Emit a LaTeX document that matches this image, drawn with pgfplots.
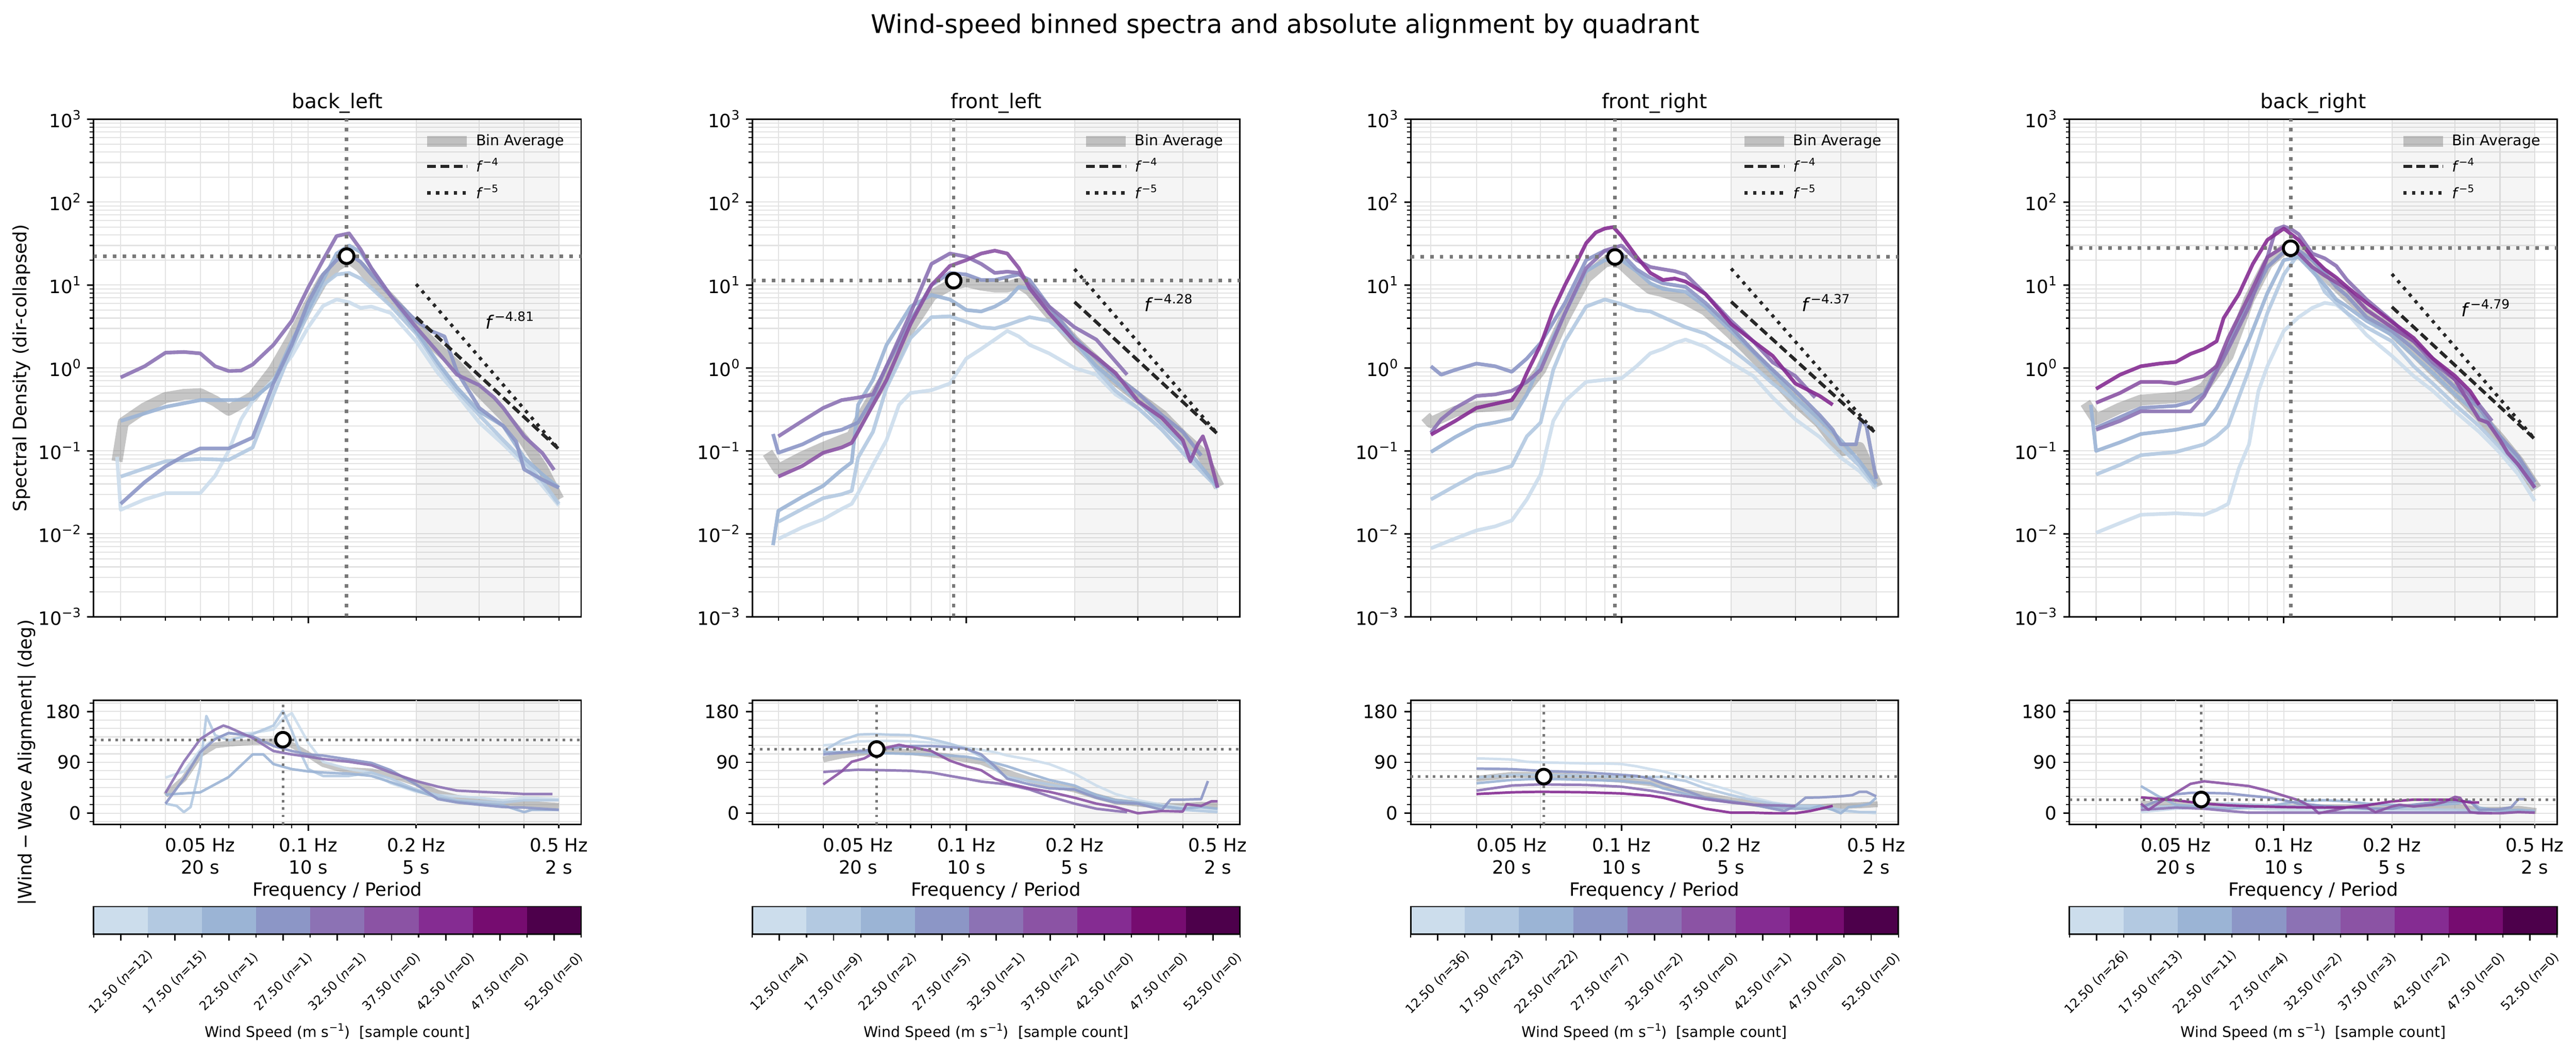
\documentclass[border=0pt]{standalone}
\usepackage{fontspec}
\setmainfont{DejaVu Sans}
\usepackage{pgfplots}
\pgfplotsset{compat=1.18}
\definecolor{c1}{RGB}{204,221,236}
\definecolor{c2}{RGB}{179,201,225}
\definecolor{c3}{RGB}{155,180,213}
\definecolor{c4}{RGB}{140,150,198}
\definecolor{c5}{RGB}{140,114,180}
\definecolor{c6}{RGB}{139,83,164}
\definecolor{c7}{RGB}{133,44,146}
\definecolor{c8}{RGB}{118,12,112}
\definecolor{c9}{RGB}{77,0,75}
\definecolor{refgray}{RGB}{120,120,120}
\newcommand{\sups}[1]{\raisebox{0.42em}{\scalebox{0.7}{#1}}}
\pgfplotsset{legend image code/.code={\draw[#1] (0cm,0cm) -- (0.76cm,0cm);}}
\tikzset{
  myLn/.style={line width=2pt, opacity=0.9, line join=round},
  myLb/.style={line width=1.4pt, opacity=0.9, line join=round},
  myAvgT/.style={line width=6pt, gray, opacity=0.45, line join=round},
  myAvgB/.style={line width=3.2pt, gray, opacity=0.45, line join=round},
  myRefl/.style={line width=1.9pt, refgray, dash pattern=on 1.9pt off 3.4pt},
  myReflb/.style={line width=1.4pt, refgray, dash pattern=on 1.4pt off 2.6pt},
  myS4/.style={black!85, line width=1.8pt, dash pattern=on 4.8pt off 2.4pt},
  myS5/.style={black!85, line width=1.8pt, dash pattern=on 1.8pt off 3pt},
  myShade/.style={fill=black, fill opacity=0.04, draw=none},
}
\newcommand{\TopAxis}[3]{\begin{axis}[at={(#1cm,8.424cm)}, xmin=#2, xmax=#3,
    scale only axis, width=9.356cm, height=9.550cm, xmode=log, ymode=log, anchor=south west,
    axis line style={line width=0.8pt}, tick align=outside, tick pos=left,
    major tick length=3.5pt, minor tick length=2pt,
    major tick style={black, line width=0.8pt}, minor tick style={black, line width=0.6pt},
    grid=both, major grid style={gray!22, line width=0.6pt}, minor grid style={gray!22, line width=0.6pt},
    unbounded coords=discard,
    ticklabel style={font=\fontsize{10}{12}\selectfont},
    ymin=1e-3, ymax=1e3,
    ytick={1e-3,1e-2,1e-1,1,10,100,1000},
    yticklabels={10\sups{−3},10\sups{−2},10\sups{−1},10\sups{0},10\sups{1},10\sups{2},10\sups{3}},
    minor ytick={2e-3,3e-3,4e-3,5e-3,6e-3,7e-3,8e-3,9e-3,2e-2,3e-2,4e-2,5e-2,6e-2,7e-2,8e-2,9e-2,0.2,0.3,0.4,0.5,0.6,0.7,0.8,0.9,2,3,4,5,6,7,8,9,20,30,40,50,60,70,80,90,200,300,400,500,600,700,800,900},
    xtick={0.1}, xticklabels={}, minor xtick={0.03,0.04,0.05,0.06,0.07,0.08,0.09,0.2,0.3,0.4,0.5},
    legend style={at={(0.985,0.985)}, anchor=north east, draw=none, fill=none,
      font=\fontsize{8}{9.6}\selectfont, cells={anchor=west}, row sep=1.5pt}]}
\newcommand{\BotAxis}[3]{\begin{axis}[at={(#1cm,4.437cm)}, xmin=#2, xmax=#3,
    scale only axis, width=9.356cm, height=2.388cm, xmode=log, anchor=south west,
    axis line style={line width=0.8pt}, tick align=outside, tick pos=left,
    major tick length=3.5pt, minor tick length=2pt,
    major tick style={black, line width=0.8pt}, minor tick style={black, line width=0.6pt},
    grid=both, major grid style={gray!22, line width=0.6pt}, minor grid style={gray!22, line width=0.6pt},
    unbounded coords=discard,
    ticklabel style={font=\fontsize{10}{12}\selectfont},
    ymin=-20, ymax=200,
    ytick={0,90,180}, yticklabels={0,90,180},
    minor ytick={-15,15,30,45,60,75,105,120,135,150,165,195},
    xtick={0.1}, xticklabels={{0.1 Hz\\10 s}},
    xticklabel style={align=center, yshift=-0.4pt},
    extra x ticks={0.05,0.2,0.5}, extra x tick labels={{0.05 Hz\\20 s},{0.2 Hz\\5 s},{0.5 Hz\\2 s}},
    extra x tick style={major tick length=2pt, grid=major, xticklabel style={yshift=-1.6pt}},
    minor xtick={0.03,0.04,0.06,0.07,0.08,0.09,0.3,0.4}]}
\newcommand{\legendstuff}{%
  \addlegendimage{line width=6pt, gray, opacity=0.45}\addlegendentry{Bin Average}
  \addlegendimage{black!85, line width=1.8pt, dash pattern=on 4.8pt off 2.4pt}\addlegendentry{\textit{f}\sups{−4}}
  \addlegendimage{black!85, line width=1.8pt, dash pattern=on 1.8pt off 3pt}\addlegendentry{\textit{f}\sups{−5}}}
\newcommand{\pk}[2]{\addplot[forget plot, only marks, mark=*, mark size=4pt, mark options={fill=white, draw=black, line width=1.6pt}] coordinates {(#1,#2)};}
\newcommand{\cbl}[3]{\node[rotate=45, font=\fontsize{6.8}{8.2}\selectfont] at (axis cs:#1,-1.76) {#2 (\textit{n}=#3)};}
\newcommand{\cbar}[9]{%
\begin{axis}[at={(\cbx cm,2.337cm)}, anchor=south west, scale only axis, width=9.356cm, height=0.525cm,
  xmin=0, xmax=9, ymin=0, ymax=1, ytick=\empty, xtick={0.5,1.5,2.5,3.5,4.5,5.5,6.5,7.5,8.5}, xticklabels={},
  minor xtick={0,1,2,3,4,5,6,7,8,9}, tick align=outside, xtick pos=left, major tick length=3.5pt, minor tick length=2pt,
  major tick style={black, line width=0.8pt}, minor tick style={black, line width=0.6pt},
  axis line style={line width=0.8pt}, clip=false, axis on top]
\addplot[fill=c1, draw=none] coordinates {(0,0)(1,0)(1,1)(0,1)};
\addplot[fill=c2, draw=none] coordinates {(1,0)(2,0)(2,1)(1,1)};
\addplot[fill=c3, draw=none] coordinates {(2,0)(3,0)(3,1)(2,1)};
\addplot[fill=c4, draw=none] coordinates {(3,0)(4,0)(4,1)(3,1)};
\addplot[fill=c5, draw=none] coordinates {(4,0)(5,0)(5,1)(4,1)};
\addplot[fill=c6, draw=none] coordinates {(5,0)(6,0)(6,1)(5,1)};
\addplot[fill=c7, draw=none] coordinates {(6,0)(7,0)(7,1)(6,1)};
\addplot[fill=c8, draw=none] coordinates {(7,0)(8,0)(8,1)(7,1)};
\addplot[fill=c9, draw=none] coordinates {(8,0)(9,0)(9,1)(8,1)};
\cbl{0.5}{12.50}{#1}\cbl{1.5}{17.50}{#2}\cbl{2.5}{22.50}{#3}\cbl{3.5}{27.50}{#4}\cbl{4.5}{32.50}{#5}
\cbl{5.5}{37.50}{#6}\cbl{6.5}{42.50}{#7}\cbl{7.5}{47.50}{#8}\cbl{8.5}{52.50}{#9}
\end{axis}}
\newcommand{\paneltext}[2]{%
  \node[font=\fontsize{11}{13}\selectfont, anchor=base] at (#1,18.178) {#2};
  \node[font=\fontsize{10}{12}\selectfont, anchor=base] at (#1,3.065) {Frequency / Period};
  \node[font=\fontsize{8}{9.6}\selectfont, anchor=base] at (#1,0.356) {Wind Speed (m s\sups{−1})\ \ [sample count]};}
\begin{document}
\begin{tikzpicture}
\path[use as bounding box] (0,0) rectangle (49.428,20.261);
\node[font=\fontsize{14}{17}\selectfont, anchor=base] at (24.663,19.626) {Wind-speed binned spectra and absolute alignment by quadrant};
\node[font=\fontsize{10}{12}\selectfont, rotate=90] at (0.415,13.199) {Spectral Density (dir-collapsed)};
\node[font=\fontsize{10}{12}\selectfont, rotate=90] at (0.516,5.630) {|Wind\kern2pt−\kern2pt Wave Alignment| (deg)};

% ================= PANEL 1: back_left =================
\TopAxis{1.795}{0.0252}{0.577}
\addplot[forget plot, myShade] coordinates {(0.2,1e-3)(0.5,1e-3)(0.5,1e3)(0.2,1e3)};
\addplot[forget plot, myAvgT] coordinates {(0.0293,0.075)(0.0305,0.22)(0.035,0.33)(0.04,0.44)(0.045,0.48)(0.05,0.49)(0.055,0.4)(0.06,0.31)(0.07,0.45)(0.08,0.95)(0.09,2.3)(0.1,5.6)(0.11,11.5)(0.12,17)(0.13,21)(0.14,16.5)(0.15,11.5)(0.17,6.7)(0.2,3.1)(0.23,1.7)(0.26,1.06)(0.3,0.53)(0.35,0.27)(0.4,0.135)(0.45,0.062)(0.5,0.026)};
\addplot[forget plot, myLn,c1] coordinates {(0.0293,0.085)(0.03,0.0195)(0.035,0.026)(0.04,0.031)(0.05,0.031)(0.055,0.05)(0.06,0.1)(0.065,0.24)(0.07,0.4)(0.08,0.72)(0.09,1.4)(0.1,3.1)(0.11,5.6)(0.12,6.7)(0.13,6.2)(0.14,5.3)(0.15,5.5)(0.17,4.6)(0.2,2.1)(0.23,0.87)(0.26,0.48)(0.3,0.22)(0.35,0.12)(0.4,0.068)(0.45,0.038)(0.5,0.022)};
\addplot[forget plot, myLn,c2] coordinates {(0.03,0.049)(0.04,0.075)(0.05,0.08)(0.06,0.078)(0.07,0.11)(0.08,0.48)(0.09,1.7)(0.1,4.6)(0.11,10)(0.12,13.4)(0.13,14)(0.14,12)(0.15,9.2)(0.17,5.6)(0.2,2.6)(0.23,1.05)(0.26,0.53)(0.3,0.27)(0.35,0.135)(0.4,0.075)(0.45,0.043)(0.5,0.023)};
\addplot[forget plot, myLn,c3] coordinates {(0.03,0.23)(0.04,0.34)(0.05,0.41)(0.06,0.41)(0.07,0.42)(0.08,0.68)(0.09,2.1)(0.1,5)(0.11,11.5)(0.12,24)(0.13,30)(0.14,25)(0.15,16)(0.17,7.4)(0.2,2.8)(0.23,1.16)(0.26,0.58)(0.3,0.3)(0.35,0.2)(0.4,0.083)(0.45,0.052)(0.5,0.036)};
\addplot[forget plot, myLn,c4] coordinates {(0.03,0.023)(0.035,0.042)(0.04,0.065)(0.045,0.087)(0.05,0.107)(0.06,0.107)(0.07,0.145)(0.08,0.65)(0.09,1.9)(0.1,6.2)(0.11,13.4)(0.12,20)(0.13,24)(0.14,19)(0.15,13.4)(0.17,7.4)(0.2,3.7)(0.22,2.8)(0.24,2.4)(0.26,0.9)(0.3,0.33)(0.35,0.2)(0.38,0.13)(0.4,0.06)(0.45,0.045)(0.5,0.036)};
\addplot[forget plot, myLn,c5] coordinates {(0.03,0.77)(0.035,1.05)(0.04,1.53)(0.045,1.56)(0.05,1.5)(0.055,1.05)(0.06,0.92)(0.065,0.93)(0.07,1.1)(0.08,1.9)(0.09,3.7)(0.1,9.3)(0.11,20)(0.12,39)(0.13,42)(0.14,27)(0.15,16)(0.17,7.4)(0.2,3.1)(0.23,1.55)(0.26,0.83)(0.3,0.62)(0.33,0.44)(0.35,0.33)(0.4,0.15)(0.45,0.094)(0.485,0.059)};
\addplot[forget plot, myRefl] coordinates {(0.0252,22.3)(0.577,22.3)};
\addplot[forget plot, myRefl] coordinates {(0.128,1e-3)(0.128,1e3)};
\addplot[forget plot, myS4] coordinates {(0.2,4.1)(0.5,0.105)};
\addplot[forget plot, myS5] coordinates {(0.2,10.25)(0.5,0.105)};
\pk{0.128}{22.3}
\node[anchor=west, font=\fontsize{10}{12}\selectfont] at (axis cs:0.3,3.75) {\textit{f}\sups{−4.81}};
\legendstuff
\end{axis}
\BotAxis{1.795}{0.0252}{0.577}
\addplot[forget plot, myShade] coordinates {(0.2,-20)(0.5,-20)(0.5,200)(0.2,200)};
\addplot[forget plot, myAvgB] coordinates {(0.04,32)(0.045,61)(0.05,104)(0.055,120)(0.06,123)(0.07,126)(0.08,127)(0.09,121)(0.1,104)(0.11,87)(0.12,80)(0.13,76)(0.15,74)(0.17,68)(0.2,53)(0.23,36)(0.26,27.5)(0.3,23)(0.35,19)(0.4,17)(0.45,15)(0.5,13)};
\addplot[forget plot, myLb,c1] coordinates {(0.04,63)(0.045,74)(0.05,112)(0.055,133)(0.06,140)(0.07,142)(0.08,148)(0.085,167)(0.09,177)(0.1,125)(0.11,91)(0.13,78)(0.15,72)(0.17,53)(0.2,38)(0.23,32)(0.3,27.5)(0.35,23)(0.4,27.5)(0.5,25)};
\addplot[forget plot, myLb,c2] coordinates {(0.04,17)(0.043,13)(0.045,2)(0.047,11)(0.05,83)(0.052,172)(0.055,138)(0.06,129)(0.07,140)(0.08,155)(0.085,181)(0.09,146)(0.095,108)(0.1,78)(0.11,66)(0.13,66)(0.15,72)(0.17,61)(0.2,42)(0.23,32)(0.26,23)(0.3,21)(0.35,19)(0.4,23)(0.5,23)};
\addplot[forget plot, myLb,c3] coordinates {(0.04,33)(0.05,37)(0.06,64)(0.07,104)(0.075,104)(0.08,87)(0.09,78)(0.1,74)(0.11,72)(0.13,70)(0.15,66)(0.17,55)(0.2,40)(0.23,27.5)(0.26,21)(0.3,17)(0.35,14)(0.4,2)(0.42,6)(0.5,6)};
\addplot[forget plot, myLb,c4] coordinates {(0.04,17)(0.045,61)(0.05,108)(0.055,131)(0.06,142)(0.07,136)(0.08,119)(0.09,110)(0.1,104)(0.11,102)(0.13,95)(0.15,89)(0.17,76)(0.2,51)(0.23,25)(0.26,19)(0.3,15)(0.35,11)(0.4,10)(0.45,8)(0.5,6)};
\addplot[forget plot, myLb,c5] coordinates {(0.04,36)(0.045,91)(0.05,131)(0.055,148)(0.058,155)(0.06,152)(0.07,133)(0.08,110)(0.09,104)(0.1,100)(0.11,96)(0.13,91)(0.15,85)(0.17,72)(0.2,57)(0.23,47)(0.26,40)(0.3,38)(0.35,36)(0.4,34)(0.48,34)};
\addplot[forget plot, myReflb] coordinates {(0.0252,130)(0.577,130)};
\addplot[forget plot, myReflb] coordinates {(0.085,-20)(0.085,200)};
\pk{0.085}{130}
\end{axis}
\def\cbx{1.795}
\cbar{12}{15}{1}{1}{1}{0}{0}{0}{0}
\paneltext{6.473}{back\_left}

% ================= PANEL 2: front_left =================
\TopAxis{14.436}{0.0254}{0.577}
\addplot[forget plot, myShade] coordinates {(0.2,1e-3)(0.5,1e-3)(0.5,1e3)(0.2,1e3)};
\addplot[forget plot, myAvgT] coordinates {(0.028,0.095)(0.03,0.06)(0.035,0.085)(0.04,0.11)(0.045,0.135)(0.048,0.15)(0.05,0.22)(0.055,0.44)(0.06,0.8)(0.07,3.1)(0.08,7.5)(0.09,10)(0.1,11)(0.11,10)(0.12,9.5)(0.13,9.5)(0.14,10.5)(0.15,8.7)(0.17,4.6)(0.2,2.1)(0.23,1.2)(0.26,0.72)(0.3,0.44)(0.35,0.27)(0.4,0.15)(0.45,0.095)(0.505,0.037)};
\addplot[forget plot, myLn,c1] coordinates {(0.03,0.0087)(0.035,0.012)(0.04,0.015)(0.045,0.02)(0.048,0.023)(0.05,0.031)(0.055,0.068)(0.06,0.135)(0.065,0.36)(0.07,0.5)(0.08,0.54)(0.09,0.65)(0.1,1.3)(0.11,1.7)(0.12,2.2)(0.13,2.8)(0.14,2.4)(0.15,1.9)(0.17,1.5)(0.2,1.0)(0.23,0.83)(0.26,0.48)(0.3,0.33)(0.35,0.18)(0.4,0.1)(0.45,0.06)(0.5,0.035)};
\addplot[forget plot, myLn,c2] coordinates {(0.03,0.014)(0.035,0.02)(0.04,0.027)(0.045,0.03)(0.048,0.033)(0.05,0.083)(0.055,0.17)(0.06,0.58)(0.07,2.3)(0.08,4.1)(0.09,4.2)(0.1,3.6)(0.11,3.1)(0.12,3.0)(0.13,3.3)(0.14,3.7)(0.15,4.1)(0.17,3.7)(0.2,2.1)(0.23,0.96)(0.26,0.53)(0.3,0.33)(0.35,0.18)(0.4,0.095)(0.45,0.057)(0.5,0.036)};
\addplot[forget plot, myLn,c3] coordinates {(0.029,0.0073)(0.03,0.019)(0.035,0.028)(0.04,0.038)(0.045,0.059)(0.048,0.073)(0.05,0.36)(0.055,0.72)(0.06,1.9)(0.07,5.5)(0.08,7.6)(0.09,6.7)(0.1,5)(0.11,4.8)(0.12,5.5)(0.13,6.7)(0.14,9.5)(0.15,9.1)(0.17,4.6)(0.2,2.1)(0.23,1.05)(0.26,0.68)(0.3,0.4)(0.35,0.21)(0.4,0.12)(0.45,0.065)(0.5,0.037)};
\addplot[forget plot, myLn,c4] coordinates {(0.029,0.16)(0.03,0.095)(0.035,0.12)(0.04,0.16)(0.045,0.18)(0.05,0.22)(0.055,0.44)(0.06,1.05)(0.07,3.7)(0.08,10)(0.09,14)(0.1,13.4)(0.11,11.5)(0.12,11.5)(0.13,12.5)(0.14,13.4)(0.15,11.5)(0.17,5.5)(0.2,2.3)(0.23,1.3)(0.26,0.8)(0.3,0.5)(0.35,0.27)(0.4,0.17)(0.45,0.088)};
\addplot[forget plot, myLn,c5] coordinates {(0.03,0.15)(0.035,0.23)(0.04,0.33)(0.045,0.41)(0.05,0.44)(0.055,0.48)(0.06,1.05)(0.07,4.6)(0.08,18)(0.09,24)(0.1,22)(0.11,18)(0.12,14)(0.13,14.5)(0.14,14)(0.15,10)(0.17,5.5)(0.2,3.1)(0.23,2.2)(0.26,1.2)(0.28,0.83)};
\addplot[forget plot, myLn,c6] coordinates {(0.03,0.049)(0.035,0.066)(0.04,0.095)(0.045,0.11)(0.048,0.125)(0.05,0.17)(0.055,0.36)(0.06,0.72)(0.07,3.4)(0.08,10)(0.09,17)(0.1,20)(0.11,24)(0.12,26)(0.13,24)(0.14,16)(0.15,9.1)(0.17,4.6)(0.2,2.1)(0.23,1.35)(0.26,0.87)(0.3,0.4)(0.35,0.25)(0.4,0.135)(0.42,0.075)(0.44,0.12)(0.455,0.15)(0.47,0.1)(0.5,0.036)};
\addplot[forget plot, myRefl] coordinates {(0.0254,11.3)(0.577,11.3)};
\addplot[forget plot, myRefl] coordinates {(0.0922,1e-3)(0.0922,1e3)};
\addplot[forget plot, myS4] coordinates {(0.2,6.25)(0.5,0.16)};
\addplot[forget plot, myS5] coordinates {(0.2,15.6)(0.5,0.16)};
\pk{0.0922}{11.3}
\node[anchor=west, font=\fontsize{10}{12}\selectfont] at (axis cs:0.3,6.1) {\textit{f}\sups{−4.28}};
\legendstuff
\end{axis}
\BotAxis{14.436}{0.0254}{0.577}
\addplot[forget plot, myShade] coordinates {(0.2,-20)(0.5,-20)(0.5,200)(0.2,200)};
\addplot[forget plot, myAvgB] coordinates {(0.04,95)(0.045,102)(0.05,106)(0.055,109)(0.06,110)(0.07,108)(0.08,104)(0.09,100)(0.1,95)(0.11,91)(0.13,72)(0.15,59)(0.17,51)(0.2,42)(0.23,30)(0.26,21)(0.3,17)(0.35,13)(0.4,13)(0.45,15)(0.5,13)};
\addplot[forget plot, myLb,c1] coordinates {(0.04,120)(0.045,123)(0.05,127)(0.06,128)(0.07,127)(0.08,125)(0.09,121)(0.1,116)(0.11,112)(0.12,108)(0.13,102)(0.15,95)(0.17,87)(0.2,70)(0.23,49)(0.26,34)(0.3,23)(0.35,15)(0.4,11)(0.45,8)(0.5,6)};
\addplot[forget plot, myLb,c2] coordinates {(0.04,110)(0.045,129)(0.05,139)(0.055,140)(0.06,139)(0.07,138)(0.08,131)(0.09,123)(0.1,114)(0.11,100)(0.12,78)(0.13,64)(0.15,57)(0.17,51)(0.2,42)(0.23,32)(0.26,21)(0.3,17)(0.35,11)(0.4,6)(0.45,4)(0.5,2)};
\addplot[forget plot, myLb,c3] coordinates {(0.04,108)(0.05,108)(0.06,106)(0.08,104)(0.1,100)(0.11,95)(0.12,89)(0.13,83)(0.15,70)(0.17,59)(0.2,49)(0.23,32)(0.26,23)(0.3,19)(0.35,13)(0.4,8)(0.45,11)(0.5,8)};
\addplot[forget plot, myLb,c4] coordinates {(0.04,104)(0.05,110)(0.06,114)(0.07,119)(0.08,119)(0.09,117)(0.1,114)(0.11,104)(0.12,83)(0.13,61)(0.15,51)(0.17,44)(0.2,42)(0.23,27.5)(0.26,19)(0.3,17)(0.35,6)(0.37,24)(0.4,24)(0.45,25)(0.47,57)};
\addplot[forget plot, myLb,c5] coordinates {(0.04,73)(0.05,77)(0.06,76)(0.07,75)(0.08,72)(0.09,66)(0.1,61)(0.11,56)(0.13,51)(0.15,42)(0.17,30)(0.2,17)(0.23,8)(0.26,4)(0.28,2)};
\addplot[forget plot, myLb,c6] coordinates {(0.04,51)(0.045,74)(0.048,91)(0.052,97)(0.058,114)(0.065,121)(0.08,110)(0.09,93)(0.1,83)(0.11,76)(0.12,61)(0.13,53)(0.15,44)(0.17,38)(0.2,27.5)(0.23,17)(0.26,11)(0.3,0)(0.35,4)(0.4,3)(0.41,16)(0.45,13)(0.48,21)(0.5,21)};
\addplot[forget plot, myReflb] coordinates {(0.0254,113.5)(0.577,113.5)};
\addplot[forget plot, myReflb] coordinates {(0.0563,-20)(0.0563,200)};
\pk{0.0563}{113.5}
\end{axis}
\def\cbx{14.436}
\cbar{4}{9}{2}{5}{1}{2}{0}{0}{0}
\paneltext{19.114}{front\_left}

% ================= PANEL 3: front_right =================
\TopAxis{27.068}{0.0264}{0.575}
\addplot[forget plot, myShade] coordinates {(0.2,1e-3)(0.5,1e-3)(0.5,1e3)(0.2,1e3)};
\addplot[forget plot, myAvgT] coordinates {(0.029,0.26)(0.03,0.22)(0.035,0.3)(0.04,0.34)(0.05,0.36)(0.055,0.58)(0.06,0.95)(0.07,4.1)(0.08,12.2)(0.09,19)(0.095,20)(0.1,18)(0.11,12.2)(0.12,9)(0.13,8.3)(0.15,6.7)(0.17,5.0)(0.2,2.6)(0.23,1.4)(0.26,0.8)(0.3,0.4)(0.35,0.22)(0.4,0.1)(0.45,0.11)(0.505,0.037)};
\addplot[forget plot, myLn,c1] coordinates {(0.03,0.0067)(0.035,0.0088)(0.04,0.011)(0.045,0.0123)(0.05,0.0145)(0.055,0.026)(0.06,0.052)(0.065,0.23)(0.07,0.4)(0.08,0.68)(0.09,0.72)(0.1,0.75)(0.11,1.05)(0.12,1.5)(0.13,1.7)(0.14,2.0)(0.15,2.2)(0.17,1.8)(0.2,1.15)(0.23,0.8)(0.26,0.44)(0.3,0.24)(0.35,0.147)(0.4,0.083)(0.45,0.057)(0.5,0.035)};
\addplot[forget plot, myLn,c2] coordinates {(0.03,0.026)(0.035,0.038)(0.04,0.052)(0.045,0.057)(0.05,0.066)(0.055,0.15)(0.06,0.22)(0.065,0.95)(0.07,2.1)(0.08,5.5)(0.09,6.7)(0.1,5.9)(0.11,5.0)(0.12,4.8)(0.13,4.1)(0.15,3.1)(0.17,2.6)(0.2,1.7)(0.23,1.05)(0.26,0.65)(0.3,0.4)(0.35,0.2)(0.4,0.11)(0.45,0.066)(0.5,0.037)};
\addplot[forget plot, myLn,c3] coordinates {(0.03,0.097)(0.035,0.147)(0.04,0.2)(0.045,0.22)(0.05,0.245)(0.055,0.48)(0.06,1.15)(0.07,4.6)(0.08,14.7)(0.09,20)(0.1,20)(0.11,14.7)(0.12,10.5)(0.13,9)(0.15,8.3)(0.17,5.5)(0.2,2.8)(0.23,1.55)(0.26,0.87)(0.3,0.44)(0.35,0.24)(0.4,0.135)(0.45,0.075)(0.5,0.04)};
\addplot[forget plot, myLn,c4] coordinates {(0.03,1.05)(0.032,0.83)(0.035,0.95)(0.04,1.13)(0.045,1.05)(0.05,0.9)(0.055,1.3)(0.06,2.0)(0.07,6.1)(0.08,20)(0.09,26)(0.1,24)(0.11,15.5)(0.12,12.2)(0.13,10.5)(0.15,9.5)(0.17,6.1)(0.2,3.1)(0.23,1.6)(0.26,0.95)(0.3,0.53)(0.35,0.27)(0.38,0.18)(0.4,0.12)(0.44,0.12)(0.455,0.24)(0.47,0.2)(0.5,0.046)};
\addplot[forget plot, myLn,c5] coordinates {(0.03,0.165)(0.032,0.24)(0.035,0.33)(0.04,0.46)(0.045,0.48)(0.05,0.53)(0.055,0.68)(0.06,0.95)(0.07,4.6)(0.08,16)(0.09,26)(0.1,30)(0.11,20)(0.12,16.5)(0.13,15.5)(0.14,14.7)(0.15,13.4)(0.17,7.8)(0.2,3.7)(0.23,2.1)(0.26,1.17)(0.3,0.8)(0.34,0.44)};
\addplot[forget plot, myLn,c7] coordinates {(0.03,0.157)(0.035,0.23)(0.04,0.33)(0.045,0.37)(0.05,0.41)(0.053,0.6)(0.055,0.87)(0.06,1.9)(0.065,5)(0.07,10)(0.075,18)(0.08,32)(0.085,43)(0.09,48)(0.095,50)(0.1,39)(0.11,22)(0.12,14)(0.13,11.5)(0.14,12)(0.15,11)(0.17,7.8)(0.2,3.4)(0.23,2.1)(0.26,1.4)(0.3,0.65)(0.35,0.46)(0.38,0.36)};
\addplot[forget plot, myRefl] coordinates {(0.0264,21.8)(0.575,21.8)};
\addplot[forget plot, myRefl] coordinates {(0.096,1e-3)(0.096,1e3)};
\addplot[forget plot, myS4] coordinates {(0.2,6.3)(0.5,0.162)};
\addplot[forget plot, myS5] coordinates {(0.2,15.8)(0.5,0.162)};
\pk{0.096}{21.8}
\node[anchor=west, font=\fontsize{10}{12}\selectfont] at (axis cs:0.3,6.1) {\textit{f}\sups{−4.37}};
\legendstuff
\end{axis}
\BotAxis{27.068}{0.0264}{0.575}
\addplot[forget plot, myShade] coordinates {(0.2,-20)(0.5,-20)(0.5,200)(0.2,200)};
\addplot[forget plot, myAvgB] coordinates {(0.04,61)(0.05,68)(0.06,68)(0.08,64)(0.1,59)(0.12,53)(0.13,49)(0.15,38)(0.17,32)(0.2,23)(0.23,17)(0.26,13)(0.3,11)(0.35,11)(0.4,13)(0.45,14)(0.505,16)};
\addplot[forget plot, myLb,c1] coordinates {(0.04,97)(0.045,96)(0.05,95)(0.055,91)(0.06,90)(0.07,89)(0.08,88)(0.09,88)(0.1,87)(0.11,83)(0.12,78)(0.13,74)(0.15,64)(0.17,53)(0.2,40)(0.23,27.5)(0.26,19)(0.3,13)(0.35,11)(0.4,4)(0.45,2)(0.5,0)};
\addplot[forget plot, myLb,c2] coordinates {(0.04,63)(0.05,68)(0.06,68)(0.08,66)(0.1,64)(0.12,64)(0.13,64)(0.15,57)(0.17,44)(0.2,32)(0.23,23)(0.26,17)(0.3,13)(0.35,13)(0.4,6)(0.45,2)(0.5,2)};
\addplot[forget plot, myLb,c3] coordinates {(0.04,53)(0.05,59)(0.06,61)(0.08,59)(0.1,57)(0.12,53)(0.13,44)(0.15,34)(0.17,25)(0.2,19)(0.23,15)(0.26,11)(0.3,8)(0.33,8)(0.35,13)(0.38,6)(0.4,0)(0.42,11)(0.45,13)(0.48,17)(0.5,27.5)};
\addplot[forget plot, myLb,c4] coordinates {(0.04,79)(0.05,78)(0.06,75)(0.08,72)(0.1,68)(0.11,66)(0.12,61)(0.13,53)(0.15,40)(0.17,27.5)(0.2,21)(0.23,15)(0.26,8)(0.28,4)(0.3,13)(0.32,27.5)(0.35,28)(0.4,30)(0.43,32)(0.45,38)(0.47,38)(0.5,30)};
\addplot[forget plot, myLb,c5] coordinates {(0.04,40)(0.05,49)(0.06,51)(0.08,50)(0.1,47)(0.12,40)(0.13,36)(0.15,30)(0.17,25)(0.2,19)(0.23,15)(0.26,14)(0.3,13)};
\addplot[forget plot, myLb,c7] coordinates {(0.04,34)(0.05,37)(0.06,38)(0.08,37)(0.1,35)(0.12,31)(0.13,27.5)(0.15,17)(0.17,8)(0.2,1)(0.23,1)(0.26,0)(0.3,0)(0.33,4)(0.38,13)};
\addplot[forget plot, myReflb] coordinates {(0.0264,64.8)(0.575,64.8)};
\addplot[forget plot, myReflb] coordinates {(0.0612,-20)(0.0612,200)};
\pk{0.0612}{64.8}
\end{axis}
\def\cbx{27.068}
\cbar{36}{23}{22}{7}{2}{0}{1}{0}{0}
\paneltext{31.746}{front\_right}

% ================= PANEL 4: back_right =================
\TopAxis{39.709}{0.0253}{0.577}
\addplot[forget plot, myShade] coordinates {(0.2,1e-3)(0.5,1e-3)(0.5,1e3)(0.2,1e3)};
\addplot[forget plot, myAvgT] coordinates {(0.028,0.38)(0.03,0.24)(0.035,0.33)(0.04,0.41)(0.05,0.44)(0.055,0.48)(0.06,0.58)(0.07,1.4)(0.08,6.7)(0.09,18)(0.1,27)(0.11,26)(0.12,18)(0.13,13.4)(0.15,7.4)(0.17,4.6)(0.2,2.8)(0.23,1.6)(0.26,0.95)(0.3,0.53)(0.35,0.27)(0.4,0.14)(0.45,0.075)(0.505,0.035)};
\addplot[forget plot, myLn,c1] coordinates {(0.03,0.0103)(0.035,0.0135)(0.04,0.017)(0.05,0.0177)(0.06,0.017)(0.065,0.0195)(0.07,0.023)(0.075,0.062)(0.08,0.12)(0.085,0.53)(0.09,1.05)(0.1,2.8)(0.11,4.1)(0.12,5.3)(0.13,6.1)(0.14,5.8)(0.15,4.6)(0.17,2.5)(0.2,1.4)(0.23,0.8)(0.26,0.53)(0.3,0.3)(0.35,0.17)(0.4,0.095)(0.45,0.052)(0.5,0.025)};
\addplot[forget plot, myLn,c2] coordinates {(0.03,0.052)(0.035,0.068)(0.04,0.089)(0.05,0.097)(0.06,0.12)(0.065,0.15)(0.07,0.2)(0.08,0.95)(0.09,4.6)(0.1,13.4)(0.11,24)(0.12,16.5)(0.13,8.3)(0.14,6.1)(0.15,4.6)(0.17,3.1)(0.2,2.1)(0.23,1.05)(0.26,0.65)(0.3,0.36)(0.35,0.2)(0.4,0.11)(0.45,0.062)(0.5,0.035)};
\addplot[forget plot, myLn,c3] coordinates {(0.029,0.36)(0.03,0.1)(0.035,0.127)(0.04,0.16)(0.05,0.18)(0.06,0.21)(0.065,0.33)(0.07,0.6)(0.08,2.2)(0.09,8)(0.1,20)(0.11,21.7)(0.12,14.7)(0.13,10)(0.14,6.7)(0.15,5.5)(0.17,3.7)(0.2,2.5)(0.23,1.4)(0.26,0.87)(0.3,0.48)(0.35,0.27)(0.4,0.15)(0.45,0.075)(0.5,0.038)};
\addplot[forget plot, myLn,c4] coordinates {(0.03,0.19)(0.04,0.33)(0.05,0.35)(0.055,0.39)(0.06,0.49)(0.07,1.9)(0.08,6.1)(0.09,16.5)(0.1,25)(0.11,26)(0.12,20)(0.13,14)(0.14,9.5)(0.15,7.4)(0.17,4.1)(0.2,2.8)(0.23,1.7)(0.26,1.05)(0.3,0.58)(0.35,0.33)(0.4,0.15)(0.45,0.085)(0.5,0.042)};
\addplot[forget plot, myLn,c5] coordinates {(0.03,0.18)(0.035,0.23)(0.04,0.3)(0.05,0.3)(0.055,0.3)(0.06,0.46)(0.07,1.7)(0.08,5.5)(0.09,21.7)(0.095,47)(0.1,51)(0.105,47)(0.11,41)(0.12,24)(0.13,21)(0.14,17)(0.15,11.5)(0.17,6.7)(0.2,3.7)(0.23,2.1)(0.26,1.17)(0.3,0.72)(0.35,0.36)(0.38,0.23)};
\addplot[forget plot, myLn,c6] coordinates {(0.03,0.38)(0.035,0.5)(0.04,0.68)(0.045,0.68)(0.05,0.65)(0.055,0.72)(0.06,0.8)(0.065,1.05)(0.07,2.3)(0.08,7.4)(0.09,21.7)(0.1,29)(0.11,24)(0.12,16.5)(0.13,13)(0.15,9)(0.17,5.0)(0.2,3.1)(0.23,2.1)(0.26,1.3)(0.3,0.72)(0.35,0.24)(0.37,0.22)(0.4,0.135)(0.42,0.095)(0.45,0.068)(0.5,0.036)};
\addplot[forget plot, myLn,c7] coordinates {(0.03,0.56)(0.035,0.83)(0.04,1.05)(0.045,1.13)(0.05,1.18)(0.055,1.48)(0.06,1.7)(0.065,2.1)(0.068,4)(0.075,7.8)(0.082,18)(0.09,35)(0.1,48)(0.11,35)(0.12,21.7)(0.13,15.5)(0.14,12.3)(0.15,9.5)(0.17,6.1)(0.2,3.6)(0.23,2.3)(0.26,1.3)(0.3,0.8)(0.33,0.53)(0.35,0.36)};
\addplot[forget plot, myRefl] coordinates {(0.0253,27.8)(0.577,27.8)};
\addplot[forget plot, myRefl] coordinates {(0.1045,1e-3)(0.1045,1e3)};
\addplot[forget plot, myS4] coordinates {(0.2,5.45)(0.5,0.139)};
\addplot[forget plot, myS5] coordinates {(0.2,13.6)(0.5,0.139)};
\pk{0.1045}{27.8}
\node[anchor=west, font=\fontsize{10}{12}\selectfont] at (axis cs:0.3,5.3) {\textit{f}\sups{−4.79}};
\legendstuff
\end{axis}
\BotAxis{39.709}{0.0253}{0.577}
\addplot[forget plot, myShade] coordinates {(0.2,-20)(0.5,-20)(0.5,200)(0.2,200)};
\addplot[forget plot, myAvgB] coordinates {(0.04,17)(0.05,17)(0.06,15)(0.08,12.5)(0.1,10.5)(0.15,10.5)(0.2,10.5)(0.25,12.5)(0.3,11.5)(0.35,6)(0.4,6)(0.45,8)(0.505,4)};
\addplot[forget plot, myLb,c1] coordinates {(0.04,2)(0.05,8)(0.06,10.5)(0.08,8)(0.1,6)(0.15,6)(0.2,4)(0.3,2)(0.4,2)(0.5,2)};
\addplot[forget plot, myLb,c2] coordinates {(0.04,10.5)(0.05,12.5)(0.06,15)(0.07,17)(0.08,15)(0.1,12.5)(0.13,10.5)(0.15,10.5)(0.2,8)(0.3,6)(0.4,4)(0.5,4)};
\addplot[forget plot, myLb,c3] coordinates {(0.04,48)(0.045,29)(0.05,15)(0.06,10.5)(0.07,8)(0.08,10.5)(0.09,12.5)(0.1,17)(0.11,21)(0.13,23)(0.15,21)(0.17,17)(0.2,15)(0.23,12.5)(0.26,14)(0.3,17)(0.33,21)(0.35,10)(0.4,4)(0.45,6)(0.5,4)};
\addplot[forget plot, myLb,c4] coordinates {(0.04,10.5)(0.045,23)(0.05,33.5)(0.055,36)(0.06,36)(0.07,35)(0.08,31)(0.09,28)(0.1,23)(0.11,17)(0.12,15)(0.13,12.5)(0.15,10.5)(0.17,8)(0.2,8)(0.23,15)(0.26,19)(0.3,21)(0.33,21)(0.35,6)(0.4,7)(0.43,10.5)(0.45,25)(0.47,25)};
\addplot[forget plot, myLb,c5] coordinates {(0.04,6)(0.05,10)(0.06,8)(0.07,4)(0.08,1)(0.1,1)(0.15,1)(0.2,1)(0.3,1)(0.35,1)(0.38,0)};
\addplot[forget plot, myLb,c6] coordinates {(0.04,17)(0.042,6)(0.045,19)(0.05,36)(0.055,52)(0.06,56.5)(0.07,52)(0.08,48)(0.09,40)(0.1,31)(0.11,23)(0.12,10.5)(0.125,0)(0.14,6)(0.15,10.5)(0.17,10.5)(0.18,2)(0.2,12)(0.21,15)(0.23,12)(0.26,15)(0.28,20)(0.3,29)(0.31,27)(0.33,2)(0.35,0)(0.4,0)(0.45,2)(0.5,1)};
\addplot[forget plot, myLb,c7] coordinates {(0.04,28)(0.05,23)(0.06,17)(0.07,14)(0.08,12.5)(0.1,11)(0.13,10)(0.15,10.5)(0.17,14)(0.2,21)(0.23,24)(0.26,24)(0.3,24)(0.33,19)(0.35,19)};
\addplot[forget plot, myReflb] coordinates {(0.0253,24.3)(0.577,24.3)};
\addplot[forget plot, myReflb] coordinates {(0.0589,-20)(0.0589,200)};
\pk{0.0589}{24.3}
\end{axis}
\def\cbx{39.709}
\cbar{26}{13}{11}{4}{2}{3}{2}{0}{0}
\paneltext{44.387}{back\_right}
\end{tikzpicture}
\end{document}
